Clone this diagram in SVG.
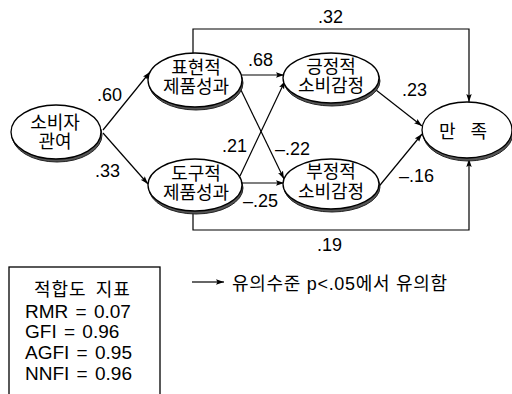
<svg xmlns="http://www.w3.org/2000/svg" width="512" height="394" viewBox="0 0 512 394">
<defs>
<marker id="ah" markerUnits="userSpaceOnUse" markerWidth="9" markerHeight="7" refX="8" refY="3.5" orient="auto">
<path d="M0,0.8 L8,3.5 L0,6.2 L1.5,3.5 Z" fill="#000"/>
</marker>
<style>
.sh{fill:#555;stroke:#222;stroke-width:1}
.el{fill:#fff;stroke:#000;stroke-width:1.3}
.t{font-family:"Liberation Sans","Noto Sans CJK KR",sans-serif;font-size:18px;fill:#000}
.m{text-anchor:middle}
.f{font-size:19px;word-spacing:2px}
.c{fill:none;stroke:#000;stroke-width:1.2}
.a{marker-end:url(#ah)}
</style>
</defs>
<rect width="512" height="394" fill="#fff"/>
<g id="connectors">
<path class="c a" d="M103,130 L150,72"/>
<path class="c a" d="M103,133 L148,184"/>
<path class="c a" d="M241,75 L284,75"/>
<path class="c a" d="M240,88 L284,179"/>
<path class="c a" d="M240,176 L285,81"/>
<path class="c a" d="M241,183 L284,183"/>
<path class="c a" d="M376,90 L422,126"/>
<path class="c a" d="M376,190 L422,134"/>
<path class="c a" d="M193,53 V29 H469 V102"/>
<path class="c a" d="M193,211 V230 H469 V159"/>
</g>
<g id="edge-labels">
<text class="t" x="97" y="101">.60</text>
<text class="t" x="95" y="177">.33</text>
<text class="t" x="248" y="66">.68</text>
<text class="t" x="222" y="152">.21</text>
<text class="t" x="275" y="155">–.22</text>
<text class="t" x="243" y="207">–.25</text>
<text class="t" x="402" y="96">.23</text>
<text class="t" x="399" y="182">–.16</text>
<text class="t" x="318" y="23">.32</text>
<text class="t" x="317" y="251">.19</text>
</g>
<g id="node-involvement">
<ellipse class="sh" cx="57" cy="135" rx="45" ry="27"/>
<ellipse class="el" cx="56" cy="132" rx="45" ry="27"/>
<text class="t m" x="55" y="129">소비자</text>
<text class="t m" x="55" y="148">관여</text>
</g>
<g id="node-expressive">
<ellipse class="sh" cx="196" cy="83" rx="47" ry="27"/>
<ellipse class="el" cx="195" cy="80" rx="47" ry="27"/>
<text class="t m" x="196" y="74">표현적</text>
<text class="t m" x="196" y="93">제품성과</text>
</g>
<g id="node-instrumental">
<ellipse class="sh" cx="196" cy="188" rx="47" ry="26"/>
<ellipse class="el" cx="195" cy="185" rx="47" ry="26"/>
<text class="t m" x="196" y="180">도구적</text>
<text class="t m" x="196" y="199">제품성과</text>
</g>
<g id="node-positive">
<ellipse class="sh" cx="332" cy="81" rx="48" ry="25"/>
<ellipse class="el" cx="331" cy="78" rx="48" ry="25"/>
<text class="t m" x="331" y="73">긍정적</text>
<text class="t m" x="331" y="92">소비감정</text>
</g>
<g id="node-negative">
<ellipse class="sh" cx="332" cy="187" rx="48" ry="25"/>
<ellipse class="el" cx="331" cy="184" rx="48" ry="25"/>
<text class="t m" x="331" y="178">부정적</text>
<text class="t m" x="331" y="198">소비감정</text>
</g>
<g id="node-satisfaction">
<ellipse class="sh" cx="468" cy="133" rx="45" ry="28"/>
<ellipse class="el" cx="467" cy="130" rx="45" ry="28"/>
<text class="t m" x="463" y="138" word-spacing="10">만 족</text>
</g>
<g id="legend">
<path class="c a" d="M192,282 H224"/>
<text class="t" x="232" y="290" letter-spacing="0.7">유의수준 p&lt;.05에서 유의함</text>
</g>
<g id="fit-box">
<rect x="9" y="267" width="151" height="140" fill="none" stroke="#000" stroke-width="1.3"/>
<text class="t" x="34" y="296" letter-spacing="1" word-spacing="3">적합도 지표</text>
<text class="t f" x="25" y="318">RMR = 0.07</text>
<text class="t f" x="25" y="338">GFI = 0.96</text>
<text class="t f" x="25" y="359">AGFI = 0.95</text>
<text class="t f" x="25" y="380">NNFI = 0.96</text>
</g>
</svg>
